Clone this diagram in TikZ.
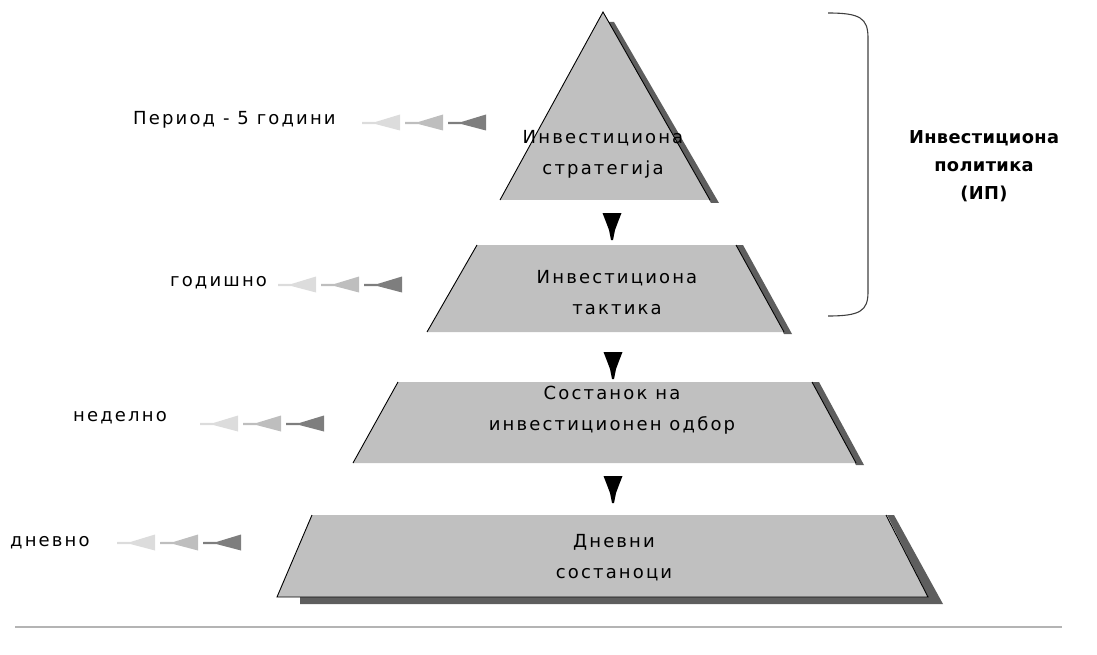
\documentclass[tikz,border=0pt]{standalone}
\usepackage{fontspec}
\setmainfont{DejaVu Sans}
\newfontfamily\spc[LetterSpace=12]{DejaVu Sans}
\newfontfamily\spcb[LetterSpace=2]{DejaVu Sans}
\definecolor{tierfill}{HTML}{C0C0C0}
\definecolor{shadowc}{HTML}{5E5E5E}
\definecolor{fadeA}{HTML}{DCDCDC}
\definecolor{fadeB}{HTML}{BEBEBE}
\definecolor{fadeC}{HTML}{7E7E7E}
\definecolor{bracec}{HTML}{404040}
\definecolor{rulec}{HTML}{B4B4B4}
\begin{document}
\begin{tikzpicture}[x=1pt,y=-1pt,
  tierbox/.style={fill=tierfill},
  tieredge/.style={draw=black,line width=0.9pt},
  shadowbox/.style={fill=shadowc},
  tiertext/.style={font=\spc\fontsize{18}{31}\selectfont,align=center,inner sep=0pt},
  freqtext/.style={font=\spc\fontsize{18}{20}\selectfont,anchor=west,inner sep=0pt},
  boldtext/.style={font=\spcb\bfseries\fontsize{17.8}{28}\selectfont,align=center,inner sep=0pt},
  downarrow/.style={fill=black},
  pics/fade/.style={code={
    \foreach \dx/\col in {0/fadeA,43/fadeB,86/fadeC}{
      \fill[\col] (\dx,-1) -- (\dx+14,-1.2) -- (\dx+38,-8.5) -- (\dx+38,7.5) -- (\dx+14,1.2) -- (\dx,1) -- cycle;
    }
  }}
]
\useasboundingbox (0,0) rectangle (1097,655);

% ---- tier 1 (triangle)
\fill[shadowbox] (608,22) -- (614,22) -- (719,203) -- (711,203) -- cycle;
\fill[tierbox] (603,12) -- (710,200) -- (500,200) -- cycle;
\draw[tieredge] (500,200) -- (603,12) -- (710,200);
\node[tiertext] (t1) at (603,154) {Инвестициона\\стратегија};

% ---- tier 2
\fill[shadowbox] (736,245) -- (743,245) -- (792,334) -- (784,334) -- cycle;
\fill[tierbox] (477,245) -- (736,245) -- (784,332) -- (427,332) -- cycle;
\draw[tieredge] (427,332) -- (477,245);
\draw[tieredge] (736,245) -- (784,332);
\node[tiertext] (t2) at (617,292.5) {Инвестициона\\тактика};

% ---- tier 3
\fill[shadowbox] (812,382) -- (819,382) -- (864,465) -- (856,465) -- cycle;
\fill[tierbox] (398,382) -- (812,382) -- (856,463) -- (353,463) -- cycle;
\draw[tieredge] (353,463) -- (398,382);
\draw[tieredge] (812,382) -- (856,463);
\node[tiertext] (t3) at (612,410.5) {Состанок на\\инвестиционен одбор};

% ---- tier 4
\fill[shadowbox] (887,515) -- (894,515) -- (943,604) -- (300,604) -- (300,597) -- (928,597) -- cycle;
\fill[tierbox] (312,515) -- (886,515) -- (928,597) -- (277,597) -- cycle;
\draw[tieredge] (312,515) -- (277,597) -- (928,597) -- (886,515);
\node[tiertext] (t4) at (614,557.5) {Дневни\\состаноци};

% ---- down arrows between tiers
\foreach \ax/\ay in {612/213, 613/352, 613/476}{
  \fill[downarrow] (\ax-9.5,\ay) -- (\ax+9.5,\ay) -- (\ax+6,\ay+9) -- (\ax+3,\ay+17) -- (\ax+1,\ay+27)
     -- (\ax-1,\ay+27) -- (\ax-3,\ay+17) -- (\ax-6,\ay+9) -- cycle;
}

% ---- frequency labels with fading arrows
\node[freqtext] (f1) at (133,120) {Период - 5 години};
\pic at (362,123) {fade};
\node[freqtext] (f2) at (170,283) {годишно};
\pic at (278,285) {fade};
\node[freqtext] (f3) at (73,418) {неделно};
\pic at (200,424) {fade};
\node[freqtext] (f4) at (10,543) {дневно};
\pic at (117,543) {fade};

% ---- brace
\draw[bracec,line width=1.1pt] (828,13) .. controls (860,13) and (868,18) .. (868,38)
   -- (868,292) .. controls (868,311) and (860,316) .. (828,316);
\node[boldtext] (ip) at (984,166) {Инвестициона\\политика\\(ИП)};

% ---- bottom rule
\draw[rulec,line width=1.6pt] (15,627) -- (1062,627);
\end{tikzpicture}
\end{document}
